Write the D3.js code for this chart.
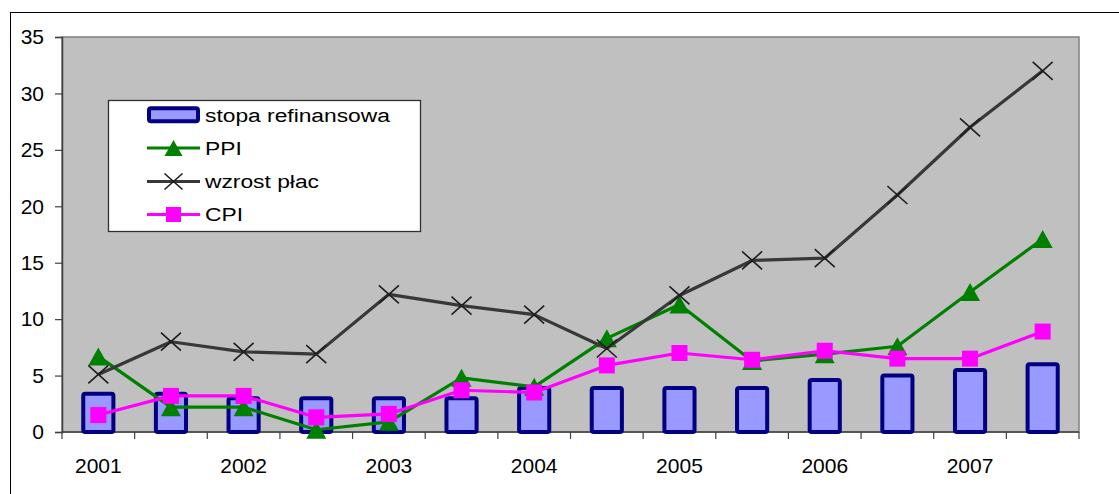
<!DOCTYPE html>
<html>
<head>
<meta charset="utf-8">
<script src="https://cdn.jsdelivr.net/npm/d3@7/dist/d3.min.js"></script>
<style>
  html, body { margin: 0; padding: 0; background: #ffffff; }
  svg { display: block; font-family: "Liberation Sans", Arial, sans-serif; }
</style>
</head>
<body>
<svg id="chart" width="1119" height="494"></svg>
<script>
// Half-year periods, 2001–2007
const categories = ["2001 I", "2001 II", "2002 I", "2002 II", "2003 I", "2003 II", "2004 I",
                    "2004 II", "2005 I", "2005 II", "2006 I", "2006 II", "2007 I", "2007 II"];
const tickLabels = ["2001", "", "2002", "", "2003", "", "2004", "", "2005", "", "2006", "", "2007", ""];
const yTicks = [0, 5, 10, 15, 20, 25, 30, 35];

const stopaRefinansowa = [3.4, 3.4, 3.0, 3.0, 3.0, 3.0, 3.9, 3.9, 3.9, 3.9, 4.6, 5.0, 5.5, 6.0];
const ppi              = [6.7, 2.2, 2.2, 0.2, 0.9, 4.8, 4.0, 8.3, 11.3, 6.3, 6.9, 7.6, 12.4, 17.1];
const wzrostPlac       = [5.1, 8.0, 7.1, 6.9, 12.2, 11.2, 10.4, 7.4, 12.1, 15.2, 15.4, 21.0, 27.0, 32.0];
const cpi              = [1.5, 3.2, 3.2, 1.3, 1.6, 3.7, 3.5, 5.9, 7.0, 6.4, 7.2, 6.5, 6.5, 8.9];

const svg = d3.select("#chart");

// outer frame
svg.append("rect")
  .attr("x", 10.5).attr("y", 12.5).attr("width", 1200).attr("height", 600)
  .attr("fill", "#ffffff").attr("stroke", "#000000").attr("stroke-width", 1);

const plot = { left: 62, right: 1079, top: 37, bottom: 432 };

const x = d3.scaleBand().domain(categories).range([plot.left, plot.right]);
const y = d3.scaleLinear().domain([0, 35]).range([plot.bottom, plot.top]);
const cx = c => x(c) + x.bandwidth() / 2;

// plot background
svg.append("rect")
  .attr("x", plot.left).attr("y", plot.top)
  .attr("width", plot.right - plot.left).attr("height", plot.bottom - plot.top)
  .attr("fill", "#c0c0c0").attr("stroke", "#808080").attr("stroke-width", 1.5);

// y axis
const yAxis = svg.append("g")
  .attr("transform", `translate(${plot.left},0)`)
  .call(d3.axisLeft(y).tickValues(yTicks).tickSize(7).tickPadding(11).tickFormat(d3.format("d")));
yAxis.select(".domain").attr("stroke", "#404040").attr("stroke-width", 1.5);
yAxis.selectAll(".tick line").attr("stroke", "#404040").attr("stroke-width", 1.2);
yAxis.selectAll(".tick text")
  .attr("font-size", 21).attr("fill", "#000").attr("font-family", "Liberation Sans, Arial, sans-serif");

// x axis: line, ticks on category boundaries, year labels
const xAxis = svg.append("g");
xAxis.append("line")
  .attr("x1", plot.left).attr("x2", plot.right)
  .attr("y1", y(0)).attr("y2", y(0))
  .attr("stroke", "#404040").attr("stroke-width", 1.5);
const bounds = categories.map(c => x(c)).concat([x.range()[1]]);
xAxis.selectAll("line.tick").data(bounds).join("line")
  .attr("class", "tick")
  .attr("x1", d => d).attr("x2", d => d)
  .attr("y1", y(0)).attr("y2", y(0) + 7)
  .attr("stroke", "#404040").attr("stroke-width", 1.2);
xAxis.selectAll("text").data(categories.filter((c, i) => tickLabels[i])).join("text")
  .attr("x", c => cx(c))
  .attr("y", 473)
  .attr("text-anchor", "middle")
  .attr("font-size", 21)
  .attr("fill", "#000")
  .text(c => tickLabels[categories.indexOf(c)]);

// bars: stopa refinansowa
const barW = x.bandwidth() * 0.415;
svg.append("g").selectAll("rect").data(categories).join("rect")
  .attr("x", c => cx(c) - barW / 2)
  .attr("y", (c, i) => y(stopaRefinansowa[i]))
  .attr("width", barW)
  .attr("height", (c, i) => y(0) - y(stopaRefinansowa[i]))
  .attr("rx", 2)
  .attr("fill", "#9999ff")
  .attr("stroke", "#000080")
  .attr("stroke-width", 4);

const line = d3.line().x(d => cx(d.c)).y(d => y(d.v));
const pts = vals => categories.map((c, i) => ({ c, v: vals[i] }));

const triPath = "M0,-9L10,9L-10,9Z";
const crossPath = "M-10,-9L10,9M-10,9L10,-9";

function drawSeries(vals, color, marker) {
  const g = svg.append("g");
  g.append("path")
    .attr("d", line(pts(vals)))
    .attr("fill", "none")
    .attr("stroke", color)
    .attr("stroke-width", 3.2)
    .attr("stroke-linejoin", "round");
  const m = g.selectAll("g.m").data(pts(vals)).join("g")
    .attr("transform", d => `translate(${cx(d.c)},${y(d.v)})`);
  marker(m);
}

// PPI
drawSeries(ppi, "#008000", m => m.append("path").attr("d", triPath).attr("fill", "#008000"));
// wzrost płac
drawSeries(wzrostPlac, "#383838", m => m.append("path").attr("d", crossPath)
  .attr("stroke", "#1e1e1e").attr("stroke-width", 1.6).attr("fill", "none"));
// CPI
drawSeries(cpi, "#ff00ff", m => m.append("rect")
  .attr("x", -8).attr("y", -8).attr("width", 16).attr("height", 16).attr("fill", "#ff00ff"));

// legend
const legend = svg.append("g");
legend.append("rect")
  .attr("x", 108.5).attr("y", 100.5).attr("width", 312).attr("height", 131)
  .attr("fill", "#ffffff").attr("stroke", "#303030").attr("stroke-width", 1.3);

const legendItems = [
  { name: "stopa refinansowa", type: "bar" },
  { name: "PPI", type: "ppi" },
  { name: "wzrost płac", type: "wage" },
  { name: "CPI", type: "cpi" }
];
const rowY = [114.7, 148, 181.5, 214.5];
const sx0 = 147, sx1 = 200;
legendItems.forEach((it, i) => {
  const cy = rowY[i];
  const sg = legend.append("g");
  if (it.type === "bar") {
    sg.append("rect")
      .attr("x", sx0 + 2).attr("y", cy - 6.5).attr("width", sx1 - sx0 - 4).attr("height", 13)
      .attr("rx", 2)
      .attr("fill", "#9999ff").attr("stroke", "#000080").attr("stroke-width", 4);
  } else {
    const color = it.type === "ppi" ? "#008000" : it.type === "wage" ? "#383838" : "#ff00ff";
    sg.append("line")
      .attr("x1", sx0).attr("x2", sx1).attr("y1", cy).attr("y2", cy)
      .attr("stroke", color).attr("stroke-width", 3.2);
    const mx = (sx0 + sx1) / 2;
    if (it.type === "ppi") {
      sg.append("path").attr("d", "M0,-8L9,8L-9,8Z").attr("fill", color)
        .attr("transform", `translate(${mx},${cy})`);
    } else if (it.type === "wage") {
      sg.append("path").attr("d", "M-9,-8L9,8M-9,8L9,-8")
        .attr("stroke", "#1e1e1e").attr("stroke-width", 1.6).attr("fill", "none")
        .attr("transform", `translate(${mx},${cy})`);
    } else {
      sg.append("rect").attr("x", mx - 7.5).attr("y", cy - 7.5).attr("width", 15).attr("height", 15)
        .attr("fill", color);
    }
  }
  legend.append("text")
    .attr("transform", `translate(205,${cy + 6.8}) scale(1.2,1)`)
    .attr("font-size", 19)
    .attr("fill", "#000")
    .text(it.name);
});
</script>
</body>
</html>
